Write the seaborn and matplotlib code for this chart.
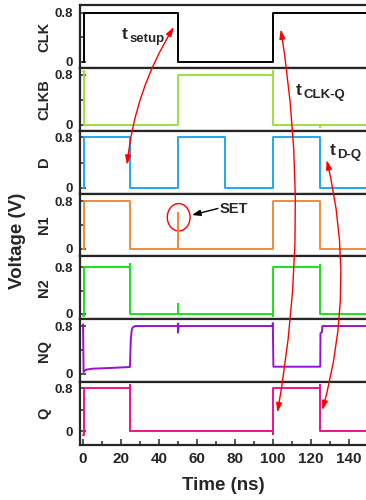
import numpy as np
import pandas as pd
import seaborn as sns
import matplotlib.pyplot as plt
import matplotlib.ticker as mticker
from matplotlib.patches import ConnectionPatch, Ellipse

# waveforms (time in ns, voltage in V)
clk_t = [0, 0.3, 0.3, 50, 50, 100, 100, 150]
clk_v = [0, 0, 0.8, 0.8, 0, 0, 0.8, 0.8]

clkb_t = [0, 0.3, 0.3, 50, 50, 100, 100, 100, 125, 125, 125, 150]
clkb_v = [0.85, 0.85, 0, 0, 0.8, 0.8, 0.85, 0, 0, -0.03, 0, 0]

d_t = [0, 0.3, 0.3, 25, 25, 50, 50, 75, 75, 100, 100, 125, 125, 150]
d_v = [0, 0, 0.8, 0.8, 0, 0, 0.8, 0.8, 0, 0, 0.8, 0.8, 0, 0]

n1_t = [0, 0.3, 0.3, 25, 25, 50, 50, 50, 100, 100, 125, 125, 150]
n1_v = [0, 0, 0.8, 0.8, 0, 0, 0.61, 0, 0, 0.8, 0.8, 0, 0]

n2_t = [0, 0.3, 0.3, 25, 25, 25, 50, 50, 50, 100, 100, 100, 125, 125, 125, 150]
n2_v = [-0.03, -0.03, 0.8, 0.8, 0.85, 0, 0, 0.17, 0, 0, -0.04, 0.8, 0.8, 0.84, 0, 0]

nq_t = [0, 0.3, 1.5, 5, 15, 24.7, 25.2, 25.7, 26.3, 27.5, 50, 50, 50, 50.4,
        100, 100, 100.3, 125, 125.1, 125.9, 126.1, 150]
nq_v = [0.83, 0.03, 0.07, 0.087, 0.1, 0.115, 0.6, 0.74, 0.78, 0.8, 0.8, 0.84, 0.69, 0.8,
        0.8, 0.85, 0.12, 0.12, 0.68, 0.7, 0.8, 0.8]

q_t = [0, 0.3, 0.3, 25, 25, 25, 100, 100, 100, 125, 125, 125, 150]
q_v = [-0.07, -0.07, 0.8, 0.8, 0.86, 0, 0, -0.06, 0.8, 0.8, 0.86, 0, 0]

names = ["CLK", "CLKB", "D", "N1", "N2", "NQ", "Q"]
times = [clk_t, clkb_t, d_t, n1_t, n2_t, nq_t, q_t]
volts = [clk_v, clkb_v, d_v, n1_v, n2_v, nq_v, q_v]
colors = ["#000000", "#9ee03a", "#1ea8f0", "#f28a3a", "#1ee01e", "#9a10d0", "#f0108c"]
ylims = [(-0.10, 0.925), (-0.096, 0.907), (-0.09, 0.907), (-0.128, 0.928),
         (-0.09, 0.98), (-0.138, 0.913), (-0.26, 0.917)]

sns.set_style("ticks")
plt.rcParams["font.family"] = ["Liberation Sans", "DejaVu Sans"]
plt.rcParams["font.weight"] = "bold"

fig, axes = plt.subplots(7, 1, figsize=(3.66, 5.0), dpi=100, sharex=True,
                         gridspec_kw=dict(hspace=0))
fig.subplots_adjust(left=80 / 366, right=1.0, top=0.99, bottom=0.11)

for i, ax in enumerate(axes):
    df = pd.DataFrame({"t": times[i], "v": volts[i]})
    sns.lineplot(data=df, x="t", y="v", ax=ax, color=colors[i], lw=1.4,
                 estimator=None, sort=False)
    ax.set_xlim(-1.6, 149.1)
    ax.set_ylim(*ylims[i])
    ax.set_yticks([0, 0.8])
    ax.set_yticklabels(["0", "0.8"])
    ax.yaxis.set_minor_locator(mticker.FixedLocator([0.4]))
    ax.tick_params(axis="y", which="both", direction="in", left=True, right=False,
                   labelsize=9.5, pad=5, width=1.1)
    ax.tick_params(axis="y", which="major", length=4)
    ax.tick_params(axis="y", which="minor", length=2.5)
    for s in ["top", "bottom", "left"]:
        ax.spines[s].set_linewidth(1.6)
    ax.spines["right"].set_visible(False)
    ax.set_ylabel(names[i], fontsize=10.5, fontweight="bold")
    ax.yaxis.set_label_coords(-0.1, 0.5)
    ax.set_xlabel("")
    if i < 6:
        ax.tick_params(axis="x", which="both", bottom=False, labelbottom=False)

bot = axes[-1]
bot.xaxis.set_major_locator(mticker.MultipleLocator(20))
bot.xaxis.set_minor_locator(mticker.MultipleLocator(10))
bot.tick_params(axis="x", which="both", direction="in", bottom=True, top=False,
                labelsize=11, pad=5, width=1.1)
bot.tick_params(axis="x", which="major", length=4)
bot.tick_params(axis="x", which="minor", length=3)
bot.set_xlabel("Time (ns)", fontsize=13.5, fontweight="bold", labelpad=8)

fig.text(0.048, 0.519, "Voltage (V)", rotation=90, ha="center", va="center",
         fontsize=13.5, fontweight="bold")

# red timing arrows
ax_clk, ax_clkb, ax_d, ax_n1, ax_n2, ax_nq, ax_q = axes
red_style = "<|-|>,head_length=0.55,head_width=0.17"
for (xa, ya, axa, xb, yb, axb, rad) in [
    (47.9, 0.568, ax_clk, 23.2, 0.363, ax_d, 0.115),
    (104.2, 0.53, ax_clk, 102.4, 0.348, ax_q, -0.084),
    (128.4, 0.443, ax_d, 126.1, 0.39, ax_q, -0.128),
]:
    con = ConnectionPatch(xyA=(xa, ya), coordsA=axa.transData,
                          xyB=(xb, yb), coordsB=axb.transData,
                          arrowstyle=red_style, mutation_scale=10,
                          connectionstyle=f"arc3,rad={rad}",
                          color="red", lw=1)
    fig.add_artist(con)


def t_label(ax, x, y, sub):
    ax.text(x, y, "t", fontsize=12.5, fontweight="bold", va="baseline")
    ax.annotate(sub, xy=(x, y), xytext=(5.3, -2.4), textcoords="offset points",
                fontsize=9.5, fontweight="bold", va="baseline")


t_label(ax_clk, 20.5, 0.373, "setup")
t_label(ax_clkb, 112.2, 0.48, "CLK-Q")
t_label(ax_d, 130.1, 0.523, "D-Q")

# SET marker on N1
ax_n1.add_patch(Ellipse((50.4, 0.53), width=12, height=0.46, fill=False,
                        ec="red", lw=1))
ax_n1.annotate("", xy=(57.4, 0.567), xytext=(71.1, 0.678),
               arrowprops=dict(arrowstyle="-|>,head_length=0.5,head_width=0.18",
                               color="black", lw=1, shrinkA=0, shrinkB=0))
ax_n1.text(72, 0.595, "SET", fontsize=10.5, fontweight="bold", va="baseline")

fig.savefig("out.png", dpi=100)
